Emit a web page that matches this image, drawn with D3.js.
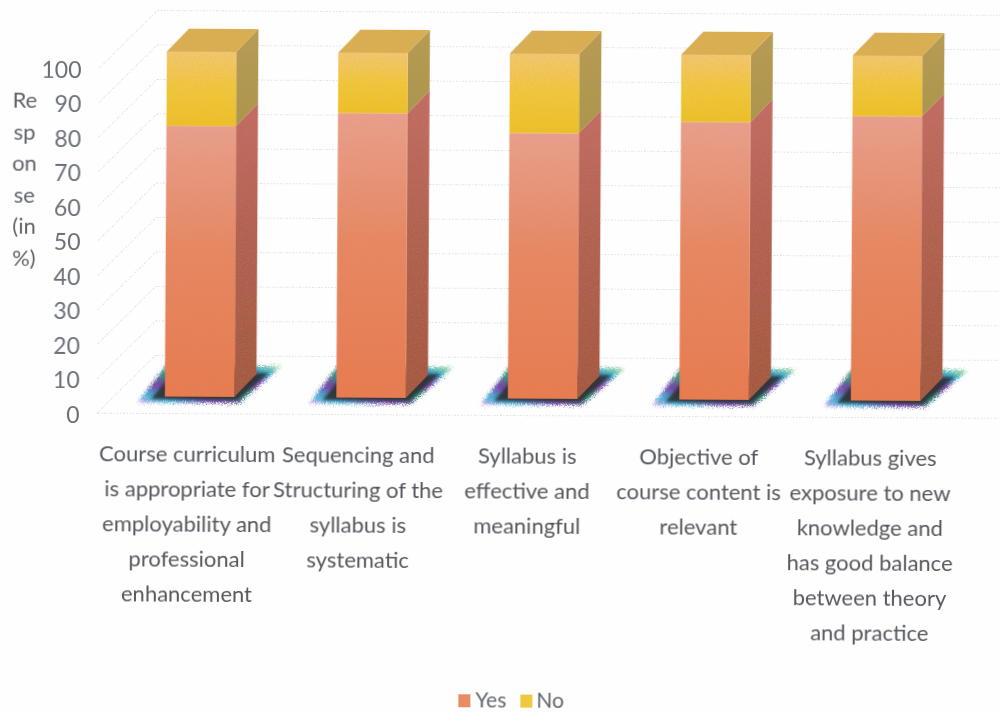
<!DOCTYPE html>
<html>
<head>
<meta charset="utf-8">
<script src="https://cdn.jsdelivr.net/npm/d3@7"></script>
<style>
  html, body { margin: 0; padding: 0; background: #fefefe; overflow: hidden; }
  svg { display: block; }
  text { font-family: Lato, "Open Sans", sans-serif; }
</style>
</head>
<body>
<div id="chart"></div>
<script>
const categories = ['Course', 'Sequencing', 'Syllabus', 'Objective', 'Exposure'];
const categoryLines = [
  ['Course curriculum', 'is appropriate for', 'employability and', 'professional', 'enhancement'],
  ['Sequencing and', 'Structuring of the', 'syllabus is', 'systematic'],
  ['Syllabus is', 'effective and', 'meaningful'],
  ['Objective of', 'course content is', 'relevant'],
  ['Syllabus gives', 'exposure to new', 'knowledge and', 'has good balance', 'between theory', 'and practice']
];
const yesValues = [78.5, 82.5, 77, 80.5, 82.5];
const noValues = [21.5, 17.5, 23, 19.5, 17.5];
const yTicks = [0, 10, 20, 30, 40, 50, 60, 70, 80, 90, 100];
const yTitleLines = ['Re', 'sp', 'on', 'se', '(in', '%)'];

const width = 1000;
const height = 712;
const depthX = 22;
const depthY = 23;
const frontLift = 19;
const wallX = 58;
const wallY = 60;
const labelNudge = [3, 2.5, 0, 0, 0];

const svg = d3.select('#chart').append('svg')
  .attr('width', width)
  .attr('height', height);

const defs = svg.append('defs');

function addGradient(id, stops) {
  const g = defs.append('linearGradient')
    .attr('id', id)
    .attr('x1', 0).attr('y1', 1).attr('x2', 0).attr('y2', 0);
  stops.forEach(s => g.append('stop').attr('offset', s[0]).attr('stop-color', s[1]));
}
addGradient('yesFront', [[0, '#ea7a4c'], [0.55, '#e98762'], [1, '#eba08c']]);
addGradient('yesSide', [[0, '#a4553c'], [0.55, '#b25f4e'], [1, '#c46a62']]);
addGradient('noFront', [[0, '#f0c21c'], [0.5, '#f3c836'], [1, '#f5c86e']]);
addGradient('noSide', [[0, '#ab9648'], [1, '#b89c52']]);

const halo = defs.append('linearGradient').attr('id', 'halo')
  .attr('x1', 0).attr('y1', 1).attr('x2', 1).attr('y2', 0);
[[0, '#d9a0e8'], [0.12, '#3fb8d8'], [0.3, '#7a3fa8'], [0.5, '#2f9a78'], [0.68, '#8a3fb0'], [0.85, '#35a8c8'], [1, '#b8e0a0']]
  .forEach(s => halo.append('stop').attr('offset', s[0]).attr('stop-color', s[1]));

const grain = defs.append('filter').attr('id', 'grain')
  .attr('x', 0).attr('y', 0).attr('width', 1).attr('height', 1);
grain.append('feTurbulence').attr('type', 'fractalNoise').attr('baseFrequency', 0.8)
  .attr('numOctaves', 2).attr('seed', 4).attr('result', 'n');
grain.append('feColorMatrix').attr('in', 'n').attr('type', 'matrix')
  .attr('values', '0 0 0 0 0.45  0 0 0 0 0.3  0 0 0 0 0.2  0 0 0 0.5 -0.18').attr('result', 'speck');
grain.append('feComposite').attr('in', 'speck').attr('in2', 'SourceAlpha').attr('operator', 'in').attr('result', 'clip');
const grainMerge = grain.append('feMerge');
grainMerge.append('feMergeNode').attr('in', 'SourceGraphic');
grainMerge.append('feMergeNode').attr('in', 'clip');

// speckled edge for the floor shadows
const rough = defs.append('filter').attr('id', 'rough')
  .attr('x', '-20%').attr('y', '-40%').attr('width', '140%').attr('height', '180%');
rough.append('feGaussianBlur').attr('in', 'SourceGraphic').attr('stdDeviation', 1.6).attr('result', 'b');
rough.append('feTurbulence').attr('type', 'fractalNoise').attr('baseFrequency', 0.9)
  .attr('numOctaves', 2).attr('seed', 7).attr('result', 't');
rough.append('feDisplacementMap').attr('in', 'b').attr('in2', 't').attr('scale', 9)
  .attr('xChannelSelector', 'R').attr('yChannelSelector', 'G');

defs.append('filter').attr('id', 'blurCore').attr('x', '-20%').attr('y', '-30%').attr('width', '140%').attr('height', '160%')
  .append('feGaussianBlur').attr('stdDeviation', 1.4);
defs.append('filter').attr('id', 'soft')
  .append('feGaussianBlur').attr('stdDeviation', 0.35);

const root = svg.append('g').attr('transform', 'rotate(0.33 70 415)');

const y = d3.scaleLinear().domain([0, 100]).range([415, 70]);
const x = d3.scaleBand().domain(categories).range([113.75, 971.25])
  .paddingInner(0.595).paddingOuter(0.2975);

// walls
const grid = root.append('g').attr('fill', 'none')
  .attr('stroke', '#e0e0e0').attr('stroke-width', 1).attr('stroke-dasharray', '2 1.5 1 2');
grid.selectAll('.back').data(yTicks).join('line')
  .attr('class', 'back')
  .attr('x1', 97 + wallX).attr('x2', width + 10)
  .attr('y1', d => y(d) - wallY).attr('y2', d => y(d) - wallY);
grid.selectAll('.wall').data(yTicks).join('line')
  .attr('class', 'wall')
  .attr('x1', 97).attr('x2', 97 + wallX)
  .attr('y1', d => y(d) - 2).attr('y2', d => y(d) - wallY);
grid.append('line')
  .attr('x1', 97).attr('x2', width + 10)
  .attr('y1', y(0) - 2).attr('y2', y(0) - 2);

const points = a => a.map(p => p.join(',')).join(' ');

// floor shadows
const shadows = root.append('g').selectAll('g').data(categories).join('g');
shadows.append('polygon')
  .attr('fill', 'url(#halo)')
  .attr('filter', 'url(#rough)')
  .attr('points', d => {
    const x0 = x(d), x1 = x0 + x.bandwidth(), b = y(0) - frontLift;
    return points([[x0 - 27, b + 6], [x1 + 5, b + 6], [x1 + depthX + 25, b - 31], [x0 + 1, b - 31]]);
  });
shadows.append('polygon')
  .attr('fill', '#2b3330')
  .attr('opacity', 0.9)
  .attr('filter', 'url(#blurCore)')
  .attr('points', d => {
    const x0 = x(d), x1 = x0 + x.bandwidth(), b = y(0) - frontLift;
    return points([[x0 - 14, b + 2.5], [x1 + 3, b + 3], [x1 + depthX + 12, b - 24], [x0 + 8, b - 24]]);
  });

// bars
const bars = root.append('g').attr('filter', 'url(#grain)')
  .selectAll('g').data(categories).join('g');

const yOf = v => y(v) - frontLift;

bars.append('polygon')
  .attr('fill', 'url(#yesSide)')
  .attr('points', (d, i) => {
    const r = x(d) + x.bandwidth();
    return points([[r, yOf(0)], [r + depthX, yOf(0) - depthY], [r + depthX, yOf(yesValues[i]) - depthY], [r, yOf(yesValues[i])]]);
  });
bars.append('polygon')
  .attr('fill', 'url(#noSide)')
  .attr('points', (d, i) => {
    const r = x(d) + x.bandwidth();
    const v0 = yesValues[i], v1 = yesValues[i] + noValues[i];
    return points([[r, yOf(v0)], [r + depthX, yOf(v0) - depthY], [r + depthX, yOf(v1) - depthY], [r, yOf(v1)]]);
  });
bars.append('polygon')
  .attr('fill', '#dcb050')
  .attr('points', (d, i) => {
    const l = x(d), r = l + x.bandwidth(), t = yOf(yesValues[i] + noValues[i]);
    return points([[l, t], [r, t], [r + depthX, t - depthY], [l + depthX, t - depthY]]);
  });
bars.append('rect')
  .attr('fill', 'url(#yesFront)')
  .attr('x', d => x(d))
  .attr('width', x.bandwidth())
  .attr('y', (d, i) => yOf(yesValues[i]))
  .attr('height', (d, i) => yOf(0) - yOf(yesValues[i]));
bars.append('rect')
  .attr('fill', 'url(#noFront)')
  .attr('x', d => x(d))
  .attr('width', x.bandwidth())
  .attr('y', (d, i) => yOf(yesValues[i] + noValues[i]))
  .attr('height', (d, i) => yOf(yesValues[i]) - yOf(yesValues[i] + noValues[i]));

const textLayer = root.append('g').attr('filter', 'url(#soft)');

// y axis
const axis = textLayer.append('g')
  .attr('transform', 'translate(79.5,0)')
  .call(d3.axisLeft(y).tickValues(yTicks).tickSize(0).tickPadding(0));
axis.select('.domain').remove();
axis.selectAll('text')
  .attr('font-size', 23)
  .attr('fill', '#6b7078')
  .style('font-family', 'Lato, "Open Sans", sans-serif');

// y title
textLayer.append('g').selectAll('text').data(yTitleLines).join('text')
  .attr('x', 23)
  .attr('y', (d, i) => 108 + i * 31.6)
  .attr('text-anchor', 'middle')
  .attr('font-size', 22)
  .attr('fill', '#5f646c')
  .text(d => d);

// category labels
const labels = textLayer.append('g').selectAll('text').data(categories).join('text')
  .attr('text-anchor', 'middle')
  .attr('font-size', 22)
  .attr('fill', '#55585e');
labels.selectAll('tspan').data((d, i) => categoryLines[i].map(line => ({ line, cx: x(d) + x.bandwidth() / 2 - 15 + labelNudge[i] }))).join('tspan')
  .attr('x', d => d.cx)
  .attr('y', (d, i) => 460.5 + i * 35)
  .text(d => d.line);

// legend
const legend = textLayer.append('g');
const legendItems = [
  { name: 'Yes', fill: '#e88c62', sx: 460, tx: 477 },
  { name: 'No', fill: '#efc83c', sx: 522, tx: 538 }
];
legend.selectAll('rect').data(legendItems).join('rect')
  .attr('x', d => d.sx).attr('y', 692)
  .attr('width', 12).attr('height', 13)
  .attr('fill', d => d.fill);
legend.selectAll('text').data(legendItems).join('text')
  .attr('x', d => d.tx).attr('y', 704.5)
  .attr('font-size', 21)
  .attr('fill', '#62666e')
  .text(d => d.name);
</script>
</body>
</html>
